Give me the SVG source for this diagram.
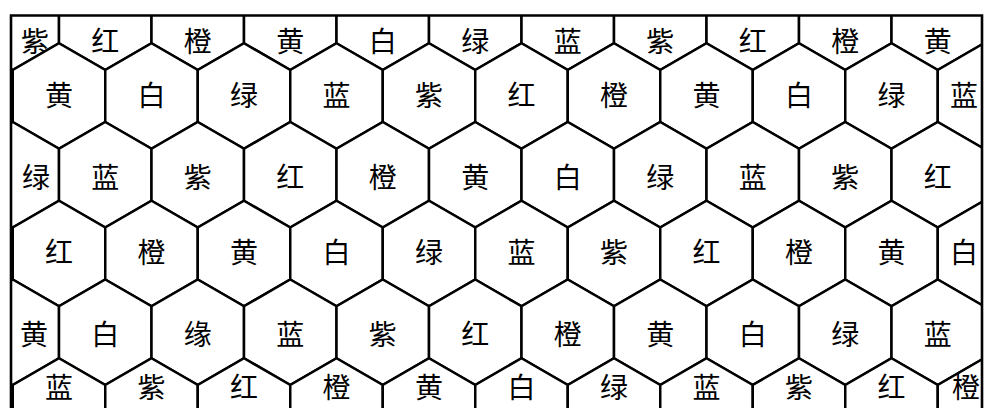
<svg xmlns="http://www.w3.org/2000/svg" xmlns:xlink="http://www.w3.org/1999/xlink" width="985" height="408" viewBox="0 0 985 408">
<style>
.h{fill:#fff;stroke:#000;stroke-width:2.5;stroke-linejoin:miter}
.t{font-family:"Noto Sans CJK SC","Noto Sans CJK TC",sans-serif;font-size:28px;fill:#000;text-anchor:middle;dominant-baseline:central}
.b{stroke:#000;stroke-width:2.6;fill:none}
</style>
<defs>
<polygon id="hex" points="0,-52.75 46.25,-26 46.25,26 0,52.75 -46.25,26 -46.25,-26"/>
<clipPath id="frame"><rect x="11" y="15" width="971" height="400"/></clipPath>
</defs>
<rect width="985" height="408" fill="#fff"/>
<g clip-path="url(#frame)">
<!-- row 0 -->
<g id="r0c0"><use href="#hex" class="h" x="12.75" y="17.25"/><text class="t" x="35" y="40">紫</text></g>
<g id="r0c1"><use href="#hex" class="h" x="105.25" y="17.25"/><text class="t" x="105.25" y="40">红</text></g>
<g id="r0c2"><use href="#hex" class="h" x="197.75" y="17.25"/><text class="t" x="197.75" y="40">橙</text></g>
<g id="r0c3"><use href="#hex" class="h" x="290.25" y="17.25"/><text class="t" x="290.25" y="40">黄</text></g>
<g id="r0c4"><use href="#hex" class="h" x="382.75" y="17.25"/><text class="t" x="382.75" y="40">白</text></g>
<g id="r0c5"><use href="#hex" class="h" x="475.25" y="17.25"/><text class="t" x="475.25" y="40">绿</text></g>
<g id="r0c6"><use href="#hex" class="h" x="567.75" y="17.25"/><text class="t" x="567.75" y="40">蓝</text></g>
<g id="r0c7"><use href="#hex" class="h" x="660.25" y="17.25"/><text class="t" x="660.25" y="40">紫</text></g>
<g id="r0c8"><use href="#hex" class="h" x="752.75" y="17.25"/><text class="t" x="752.75" y="40">红</text></g>
<g id="r0c9"><use href="#hex" class="h" x="845.25" y="17.25"/><text class="t" x="845.25" y="40">橙</text></g>
<g id="r0c10"><use href="#hex" class="h" x="937.75" y="17.25"/><text class="t" x="937.75" y="40">黄</text></g>
<!-- row 1 -->
<g id="r1c0"><use href="#hex" class="h" x="59" y="96"/><text class="t" x="59" y="94">黄</text></g>
<g id="r1c1"><use href="#hex" class="h" x="151.5" y="96"/><text class="t" x="151.5" y="94">白</text></g>
<g id="r1c2"><use href="#hex" class="h" x="244" y="96"/><text class="t" x="244" y="94">绿</text></g>
<g id="r1c3"><use href="#hex" class="h" x="336.5" y="96"/><text class="t" x="336.5" y="94">蓝</text></g>
<g id="r1c4"><use href="#hex" class="h" x="429" y="96"/><text class="t" x="429" y="94">紫</text></g>
<g id="r1c5"><use href="#hex" class="h" x="521.5" y="96"/><text class="t" x="521.5" y="94">红</text></g>
<g id="r1c6"><use href="#hex" class="h" x="614" y="96"/><text class="t" x="614" y="94">橙</text></g>
<g id="r1c7"><use href="#hex" class="h" x="706.5" y="96"/><text class="t" x="706.5" y="94">黄</text></g>
<g id="r1c8"><use href="#hex" class="h" x="799" y="96"/><text class="t" x="799" y="94">白</text></g>
<g id="r1c9"><use href="#hex" class="h" x="891.5" y="96"/><text class="t" x="891.5" y="94">绿</text></g>
<g id="r1c10"><use href="#hex" class="h" x="984" y="96"/><text class="t" x="964" y="94">蓝</text></g>
<!-- row 2 -->
<g id="r2c0"><use href="#hex" class="h" x="12.75" y="174.75"/><text class="t" x="36" y="176">绿</text></g>
<g id="r2c1"><use href="#hex" class="h" x="105.25" y="174.75"/><text class="t" x="105.25" y="176">蓝</text></g>
<g id="r2c2"><use href="#hex" class="h" x="197.75" y="174.75"/><text class="t" x="197.75" y="176">紫</text></g>
<g id="r2c3"><use href="#hex" class="h" x="290.25" y="174.75"/><text class="t" x="290.25" y="176">红</text></g>
<g id="r2c4"><use href="#hex" class="h" x="382.75" y="174.75"/><text class="t" x="382.75" y="176">橙</text></g>
<g id="r2c5"><use href="#hex" class="h" x="475.25" y="174.75"/><text class="t" x="475.25" y="176">黄</text></g>
<g id="r2c6"><use href="#hex" class="h" x="567.75" y="174.75"/><text class="t" x="567.75" y="176">白</text></g>
<g id="r2c7"><use href="#hex" class="h" x="660.25" y="174.75"/><text class="t" x="660.25" y="176">绿</text></g>
<g id="r2c8"><use href="#hex" class="h" x="752.75" y="174.75"/><text class="t" x="752.75" y="176">蓝</text></g>
<g id="r2c9"><use href="#hex" class="h" x="845.25" y="174.75"/><text class="t" x="845.25" y="176">紫</text></g>
<g id="r2c10"><use href="#hex" class="h" x="937.75" y="174.75"/><text class="t" x="937.75" y="176">红</text></g>
<!-- row 3 -->
<g id="r3c0"><use href="#hex" class="h" x="59" y="253.5"/><text class="t" x="59" y="251">红</text></g>
<g id="r3c1"><use href="#hex" class="h" x="151.5" y="253.5"/><text class="t" x="151.5" y="251">橙</text></g>
<g id="r3c2"><use href="#hex" class="h" x="244" y="253.5"/><text class="t" x="244" y="251">黄</text></g>
<g id="r3c3"><use href="#hex" class="h" x="336.5" y="253.5"/><text class="t" x="336.5" y="251">白</text></g>
<g id="r3c4"><use href="#hex" class="h" x="429" y="253.5"/><text class="t" x="429" y="251">绿</text></g>
<g id="r3c5"><use href="#hex" class="h" x="521.5" y="253.5"/><text class="t" x="521.5" y="251">蓝</text></g>
<g id="r3c6"><use href="#hex" class="h" x="614" y="253.5"/><text class="t" x="614" y="251">紫</text></g>
<g id="r3c7"><use href="#hex" class="h" x="706.5" y="253.5"/><text class="t" x="706.5" y="251">红</text></g>
<g id="r3c8"><use href="#hex" class="h" x="799" y="253.5"/><text class="t" x="799" y="251">橙</text></g>
<g id="r3c9"><use href="#hex" class="h" x="891.5" y="253.5"/><text class="t" x="891.5" y="251">黄</text></g>
<g id="r3c10"><use href="#hex" class="h" x="984" y="253.5"/><text class="t" x="964" y="251">白</text></g>
<!-- row 4 -->
<g id="r4c0"><use href="#hex" class="h" x="12.75" y="332.25"/><text class="t" x="34" y="333">黄</text></g>
<g id="r4c1"><use href="#hex" class="h" x="105.25" y="332.25"/><text class="t" x="105.25" y="333">白</text></g>
<g id="r4c2"><use href="#hex" class="h" x="197.75" y="332.25"/><text class="t" x="197.75" y="333">缘</text></g>
<g id="r4c3"><use href="#hex" class="h" x="290.25" y="332.25"/><text class="t" x="290.25" y="333">蓝</text></g>
<g id="r4c4"><use href="#hex" class="h" x="382.75" y="332.25"/><text class="t" x="382.75" y="333">紫</text></g>
<g id="r4c5"><use href="#hex" class="h" x="475.25" y="332.25"/><text class="t" x="475.25" y="333">红</text></g>
<g id="r4c6"><use href="#hex" class="h" x="567.75" y="332.25"/><text class="t" x="567.75" y="333">橙</text></g>
<g id="r4c7"><use href="#hex" class="h" x="660.25" y="332.25"/><text class="t" x="660.25" y="333">黄</text></g>
<g id="r4c8"><use href="#hex" class="h" x="752.75" y="332.25"/><text class="t" x="752.75" y="333">白</text></g>
<g id="r4c9"><use href="#hex" class="h" x="845.25" y="332.25"/><text class="t" x="845.25" y="333">绿</text></g>
<g id="r4c10"><use href="#hex" class="h" x="937.75" y="332.25"/><text class="t" x="937.75" y="333">蓝</text></g>
<!-- row 5 -->
<g id="r5c0"><use href="#hex" class="h" x="59" y="411"/><text class="t" x="59" y="386">蓝</text></g>
<g id="r5c1"><use href="#hex" class="h" x="151.5" y="411"/><text class="t" x="151.5" y="386">紫</text></g>
<g id="r5c2"><use href="#hex" class="h" x="244" y="411"/><text class="t" x="244" y="386">红</text></g>
<g id="r5c3"><use href="#hex" class="h" x="336.5" y="411"/><text class="t" x="336.5" y="386">橙</text></g>
<g id="r5c4"><use href="#hex" class="h" x="429" y="411"/><text class="t" x="429" y="386">黄</text></g>
<g id="r5c5"><use href="#hex" class="h" x="521.5" y="411"/><text class="t" x="521.5" y="386">白</text></g>
<g id="r5c6"><use href="#hex" class="h" x="614" y="411"/><text class="t" x="614" y="386">绿</text></g>
<g id="r5c7"><use href="#hex" class="h" x="706.5" y="411"/><text class="t" x="706.5" y="386">蓝</text></g>
<g id="r5c8"><use href="#hex" class="h" x="799" y="411"/><text class="t" x="799" y="386">紫</text></g>
<g id="r5c9"><use href="#hex" class="h" x="891.5" y="411"/><text class="t" x="891.5" y="386">红</text></g>
<g id="r5c10"><use href="#hex" class="h" x="984" y="411"/><text class="t" x="966" y="386">橙</text></g>
</g>
<g id="frame-lines">
<path class="b" d="M11,408 V15.5 H982 V408"/>
</g>
</svg>
